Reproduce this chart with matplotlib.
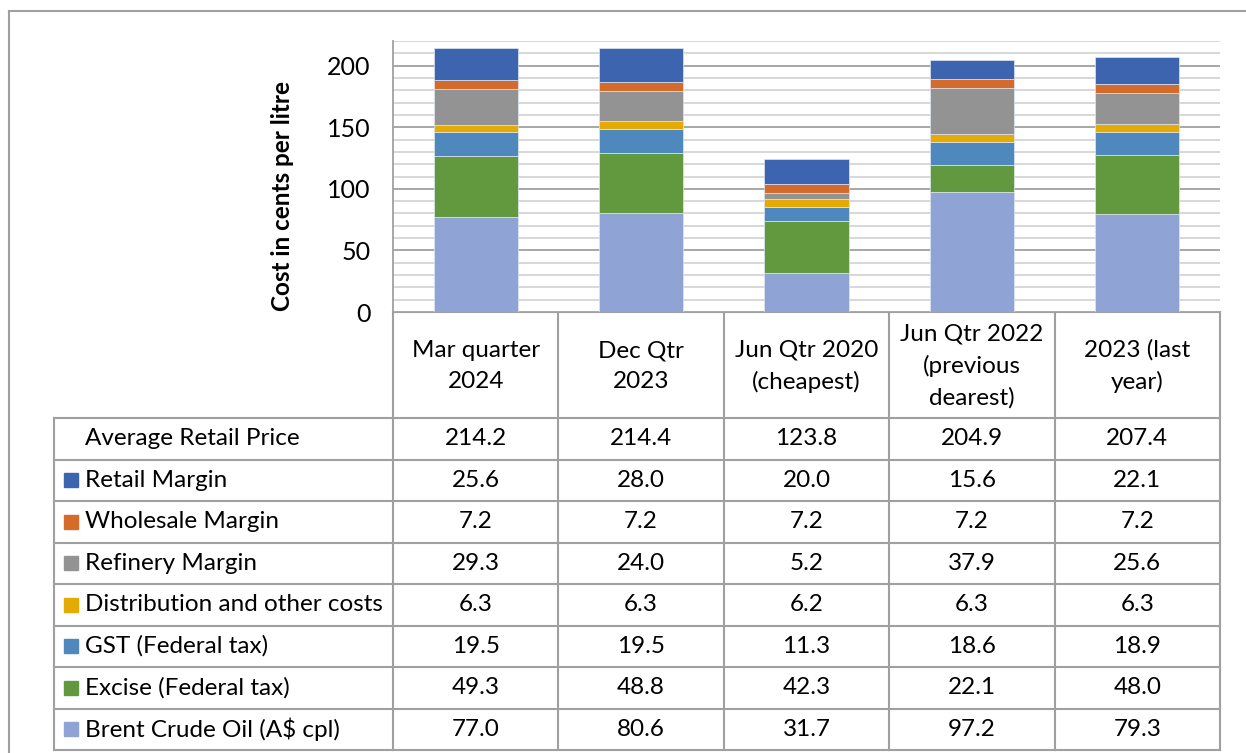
import matplotlib.pyplot as plt
from matplotlib.patches import Rectangle
import numpy as np

plt.rcParams['font.family'] = ['Lato', 'DejaVu Sans']

# data
periods = ['Mar quarter\n2024', 'Dec Qtr\n2023', 'Jun Qtr 2020\n(cheapest)',
           'Jun Qtr 2022\n(previous\ndearest)', '2023 (last\nyear)']
avg_price = [214.2, 214.4, 123.8, 204.9, 207.4]
retail = [25.6, 28.0, 20.0, 15.6, 22.1]
wholesale = [7.2, 7.2, 7.2, 7.2, 7.2]
refinery = [29.3, 24.0, 5.2, 37.9, 25.6]
distribution = [6.3, 6.3, 6.2, 6.3, 6.3]
gst = [19.5, 19.5, 11.3, 18.6, 18.9]
excise = [49.3, 48.8, 42.3, 22.1, 48.0]
brent = [77.0, 80.6, 31.7, 97.2, 79.3]

# stacking order bottom -> top
series = [
    ('Brent Crude Oil (A$ cpl)', brent, '#8fa3d4'),
    ('Excise (Federal tax)', excise, '#62993e'),
    ('GST (Federal tax)', gst, '#4e88bd'),
    ('Distribution and other costs', distribution, '#e4ab05'),
    ('Refinery Margin', refinery, '#939393'),
    ('Wholesale Margin', wholesale, '#d46b2a'),
    ('Retail Margin', retail, '#3d64ae'),
]

W, H = 1246, 753
fig = plt.figure(figsize=(W / 100, H / 100), dpi=100)

px0, px1, py0, py1 = 393, 1220, 41, 312
ax = fig.add_axes([px0 / W, 1 - py1 / H, (px1 - px0) / W, (py1 - py0) / H])

x = np.arange(len(periods))
bottom = np.zeros(len(periods))
for name, vals, col in series:
    ax.bar(x, vals, 0.51, bottom=bottom, color=col, edgecolor='#dfe6f2', linewidth=0.5, zorder=3)
    bottom += np.array(vals)

ax.set_xlim(-0.5, len(periods) - 0.5)
ax.set_ylim(0, 220)
ax.set_yticks(np.arange(0, 201, 50))
ax.set_yticks(np.arange(0, 221, 10), minor=True)
ax.grid(axis='y', which='minor', color='#d4d4d4', linewidth=1.3, zorder=0)
ax.grid(axis='y', which='major', color='#a0a0a0', linewidth=1.3, zorder=1)
ax.set_xticks([])
ax.tick_params(axis='y', which='both', length=0, labelsize=18, pad=16)
for s in ['top', 'right', 'bottom']:
    ax.spines[s].set_visible(False)
ax.spines['left'].set_color('#a0a0a0')
ax.spines['left'].set_linewidth(1.3)
ax.set_ylabel('Cost in cents per litre', fontsize=17.5, fontweight='bold')
ax.yaxis.set_label_coords(-0.12, 0.428)

# overlay for the data table and the outer frame
ov = fig.add_axes([0, 0, 1, 1], zorder=-1)
ov.set_xlim(0, W)
ov.set_ylim(H, 0)
ov.axis('off')

lc = '#a0a0a0'
ov.plot([9, W], [11, 11], color=lc, lw=1.5)
ov.plot([9, 9], [11, H], color=lc, lw=1.5)

step = (px1 - px0) / len(periods)
col_edges = [px0 + i * step for i in range(len(periods) + 1)]
hdr_top, hdr_bot, tab_bot = 312, 418, 750
tab_left = 54
fs = 17.5

rows = [('Average Retail Price', avg_price, None)] + [(n, v, c) for n, v, c in series[::-1]]
row_h = (tab_bot - hdr_bot) / len(rows)

# header
for i in range(len(periods)):
    cx = (col_edges[i] + col_edges[i + 1]) / 2
    ov.text(cx, (hdr_top + hdr_bot) / 2 + 1, periods[i], ha='center', va='center',
            fontsize=fs, linespacing=1.58)
for e in col_edges:
    ov.plot([e, e], [hdr_top, tab_bot], color=lc, lw=1.5)
ov.plot([tab_left, tab_left], [hdr_bot, tab_bot], color=lc, lw=1.5)
ov.plot([px0, px1], [hdr_top, hdr_top], color=lc, lw=1.5)

for r, (name, vals, col) in enumerate(rows):
    y0 = hdr_bot + r * row_h
    yc = y0 + row_h / 2
    ov.plot([tab_left, px1], [y0, y0], color=lc, lw=1.5)
    if col is not None:
        ov.add_patch(Rectangle((64, yc - 7), 14, 14, color=col))
    ov.text(85, yc, name, ha='left', va='center', fontsize=fs)
    for i, v in enumerate(vals):
        cx = (col_edges[i] + col_edges[i + 1]) / 2
        ov.text(cx, yc, f'{v:.1f}', ha='center', va='center', fontsize=fs)
ov.plot([tab_left, px1], [tab_bot, tab_bot], color=lc, lw=1.5)

fig.savefig('out.png', dpi=100)
